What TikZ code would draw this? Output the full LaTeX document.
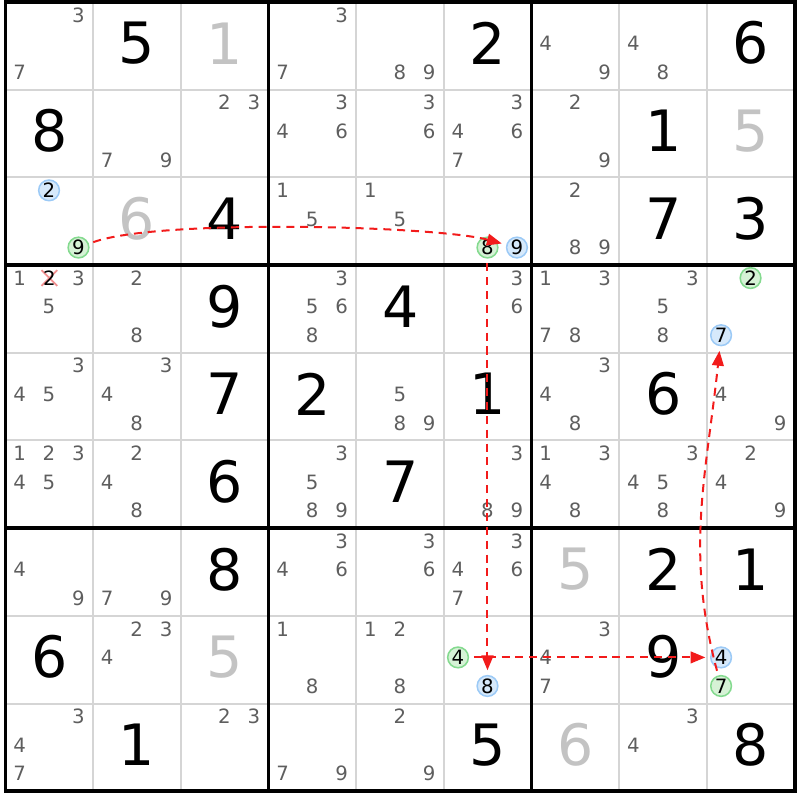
\documentclass[tikz,border=0pt]{standalone}
\usepackage{fontspec}
\setmainfont{DejaVu Sans}
\usepackage{xcolor}
\usepackage{tikz}
\usetikzlibrary{arrows.meta}

\definecolor{pencil}{HTML}{5E5E5E}
\definecolor{clue}{HTML}{C3C3C3}
\definecolor{thingrid}{HTML}{D5D5D5}
\definecolor{bluefill}{HTML}{D6E9FB}
\definecolor{blueline}{HTML}{9CCAF6}
\definecolor{greenfill}{HTML}{D6F2D6}
\definecolor{greenline}{HTML}{84DA8F}
\definecolor{linkred}{HTML}{F21B1B}
\definecolor{crossred}{HTML}{F29090}

\tikzset{
  candnum/.style={inner sep=0pt, text=pencil, font=\fontsize{6.4}{7}\selectfont},
  bignum/.style={inner sep=0pt, text=black, font=\fontsize{18.5}{20}\selectfont},
  givennum/.style={bignum, text=clue},
  oncand/.style={circle, draw=greenline, fill=greenfill, line width=0.5pt, minimum size=0.236cm, inner sep=0pt, text=black, font=\fontsize{6.4}{7}\selectfont},
  offcand/.style={oncand, draw=blueline, fill=bluefill},
  link/.style={draw=linkred, line width=0.65pt, dash pattern=on 2.6pt off 1.9pt, -{Triangle[length=4.8pt,width=3.8pt]}, shorten <=1.5pt, shorten >=1.5pt}
}

\newcommand{\pencilmarks}[3]{%
  \foreach \k in {#3}{%
    \pgfmathtruncatemacro{\kx}{mod(\k-1,3)}%
    \pgfmathtruncatemacro{\ky}{div(\k-1,3)}%
    \node[candnum] (n#1#2\k) at ({#2-1+0.16+0.336*\kx},{1-#1-0.148-0.326*\ky}) {\k};
  }}
\newcommand{\ringed}[4]{%
  \pgfmathtruncatemacro{\kx}{mod(#3-1,3)}%
  \pgfmathtruncatemacro{\ky}{div(#3-1,3)}%
  \node[#4] (c#1#2#3) at ({#2-1+0.16+0.336*\kx},{1-#1-0.148-0.326*\ky}) {#3};}
\newcommand{\solved}[3]{\node[bignum] (s#1#2) at ({#2-0.5},{0.53-#1}) {#3};}
\newcommand{\given}[3]{\node[givennum] (s#1#2) at ({#2-0.5},{0.53-#1}) {#3};}

\begin{document}
\begin{tikzpicture}
\useasboundingbox (-0.063,0.023) rectangle (9.06,-9.10);
\foreach \i in {1,2,4,5,7,8} {
  \draw[thingrid, line width=0.65pt] (\i,0) -- (\i,-9);
  \draw[thingrid, line width=0.65pt] (0,-\i) -- (9,-\i);
}
\foreach \i in {3,6} {
  \draw[line width=1.13pt] (\i,0) -- (\i,-9);
  \draw[line width=1.13pt] (0,-\i) -- (9,-\i);
}
\draw[line width=1.13pt] (0,0) rectangle (9,-9);

% row 1
\pencilmarks{1}{1}{3,7} \solved{1}{2}{5} \given{1}{3}{1}
\pencilmarks{1}{4}{3,7} \pencilmarks{1}{5}{8,9} \solved{1}{6}{2}
\pencilmarks{1}{7}{4,9} \pencilmarks{1}{8}{4,8} \solved{1}{9}{6}
% row 2
\solved{2}{1}{8} \pencilmarks{2}{2}{7,9} \pencilmarks{2}{3}{2,3}
\pencilmarks{2}{4}{3,4,6} \pencilmarks{2}{5}{3,6} \pencilmarks{2}{6}{3,4,6,7}
\pencilmarks{2}{7}{2,9} \solved{2}{8}{1} \given{2}{9}{5}
% row 3
\ringed{3}{1}{2}{offcand} \ringed{3}{1}{9}{oncand} \given{3}{2}{6} \solved{3}{3}{4}
\pencilmarks{3}{4}{1,5} \pencilmarks{3}{5}{1,5} \ringed{3}{6}{8}{oncand} \ringed{3}{6}{9}{offcand}
\pencilmarks{3}{7}{2,8,9} \solved{3}{8}{7} \solved{3}{9}{3}
% row 4
\coordinate (x412) at (0.5,-3.148);
\draw[crossred, line width=0.55pt] ([shift={(-0.09,0.09)}]x412) -- ([shift={(0.09,-0.09)}]x412);
\draw[crossred, line width=0.55pt] ([shift={(-0.09,-0.09)}]x412) -- ([shift={(0.09,0.09)}]x412);
\node[candnum, text=black] (n412) at (x412) {2};
\pencilmarks{4}{1}{1,3,5} \pencilmarks{4}{2}{2,8} \solved{4}{3}{9}
\pencilmarks{4}{4}{3,5,6,8} \solved{4}{5}{4} \pencilmarks{4}{6}{3,6}
\pencilmarks{4}{7}{1,3,7,8} \pencilmarks{4}{8}{3,5,8} \ringed{4}{9}{2}{oncand} \ringed{4}{9}{7}{offcand}
% row 5
\pencilmarks{5}{1}{3,4,5} \pencilmarks{5}{2}{3,4,8} \solved{5}{3}{7}
\solved{5}{4}{2} \pencilmarks{5}{5}{5,8,9} \solved{5}{6}{1}
\pencilmarks{5}{7}{3,4,8} \solved{5}{8}{6} \pencilmarks{5}{9}{4,9}
% row 6
\pencilmarks{6}{1}{1,2,3,4,5} \pencilmarks{6}{2}{2,4,8} \solved{6}{3}{6}
\pencilmarks{6}{4}{3,5,8,9} \solved{6}{5}{7} \pencilmarks{6}{6}{3,8,9}
\pencilmarks{6}{7}{1,3,4,8} \pencilmarks{6}{8}{3,4,5,8} \pencilmarks{6}{9}{2,4,9}
% row 7
\pencilmarks{7}{1}{4,9} \pencilmarks{7}{2}{7,9} \solved{7}{3}{8}
\pencilmarks{7}{4}{3,4,6} \pencilmarks{7}{5}{3,6} \pencilmarks{7}{6}{3,4,6,7}
\given{7}{7}{5} \solved{7}{8}{2} \solved{7}{9}{1}
% row 8
\solved{8}{1}{6} \pencilmarks{8}{2}{2,3,4} \given{8}{3}{5}
\pencilmarks{8}{4}{1,8} \pencilmarks{8}{5}{1,2,8} \ringed{8}{6}{4}{oncand} \ringed{8}{6}{8}{offcand}
\pencilmarks{8}{7}{3,4,7} \solved{8}{8}{9} \ringed{8}{9}{4}{offcand} \ringed{8}{9}{7}{oncand}
% row 9
\pencilmarks{9}{1}{3,4,7} \solved{9}{2}{1} \pencilmarks{9}{3}{2,3}
\pencilmarks{9}{4}{7,9} \pencilmarks{9}{5}{2,9} \solved{9}{6}{5}
\given{9}{7}{6} \pencilmarks{9}{8}{3,4} \solved{9}{9}{8}

% chain
\draw[link] (c319) to[out=20,in=165,looseness=0.45] (c369);
\draw[link] (c368) -- (c868);
\draw[link] (c864) -- (c894);
\draw[link] (c897) to[out=105,in=-96] (c497);
\end{tikzpicture}
\end{document}
